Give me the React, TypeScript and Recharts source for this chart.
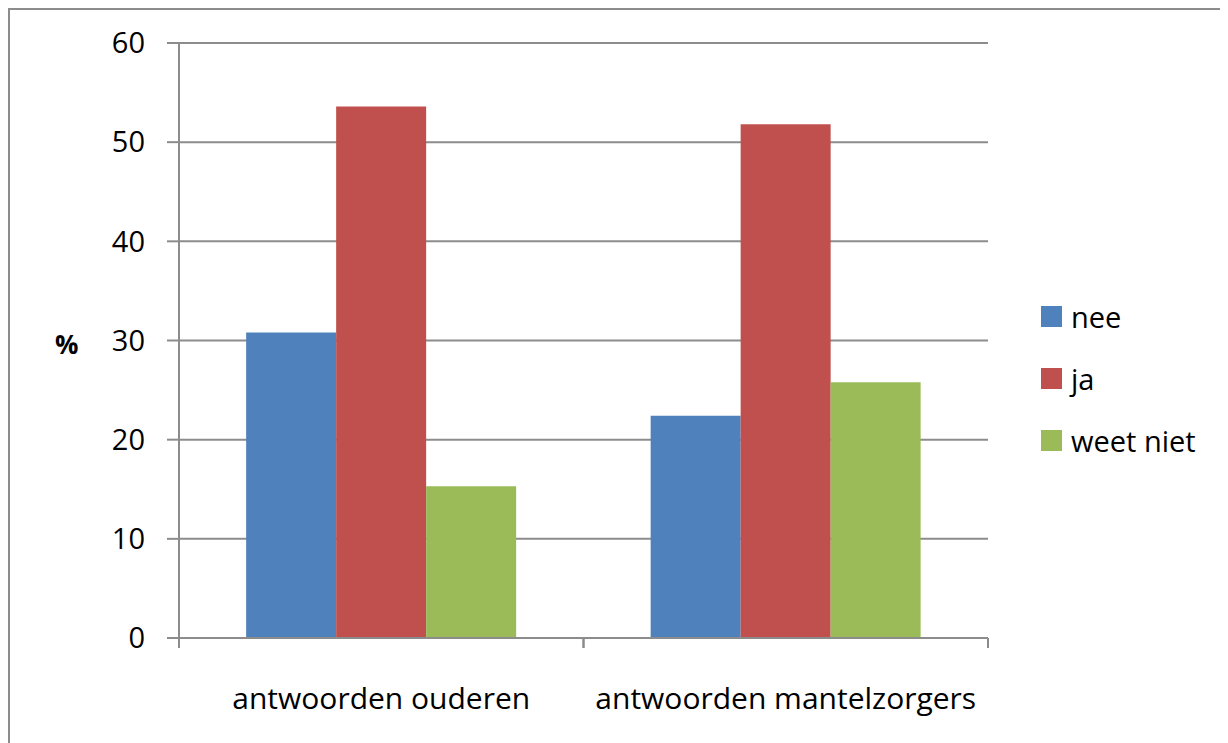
import React from 'react';
import { BarChart, Bar, XAxis, YAxis, CartesianGrid, Label } from 'recharts';

const categories = ['antwoorden ouderen', 'antwoorden mantelzorgers'];
const nee = [30.8, 22.4];
const ja = [53.6, 51.8];
const weetNiet = [15.3, 25.8];
const yTicks = [0, 10, 20, 30, 40, 50, 60];

const seriesInfo = [
  { key: 'nee', name: 'nee', color: '#4F81BD' },
  { key: 'ja', name: 'ja', color: '#C0504D' },
  { key: 'weetNiet', name: 'weet niet', color: '#9BBB59' },
];

const data = categories.map((c, i) => ({ cat: c, nee: nee[i], ja: ja[i], weetNiet: weetNiet[i] }));

const FONT = '"Open Sans", sans-serif';
const GRID = '#8c8c8c';
const X_TICK_MARGIN = 50;

const CategoryTick = (props: any) => {
  const { x, y, payload } = props;
  const half = payload && payload.offset ? payload.offset : 0;
  const axisY = y - X_TICK_MARGIN;
  return (
    <g>
      <line x1={x - half} x2={x - half} y1={axisY} y2={axisY + 10} stroke={GRID} strokeWidth={2} />
      <line x1={x + half} x2={x + half} y1={axisY} y2={axisY + 10} stroke={GRID} strokeWidth={2} />
      <text
        x={x}
        y={y}
        dy="0.71em"
        textAnchor="middle"
        fontFamily={FONT}
        fontSize={30}
        fill="#000"
      >
        {payload.value}
      </text>
    </g>
  );
};

export default function App() {
  return (
    <div
      style={{
        position: 'relative',
        width: 1220,
        height: 735,
        borderLeft: `2px solid ${GRID}`,
        borderTop: `2px solid ${GRID}`,
        boxSizing: 'border-box',
        background: '#fff',
      }}
    >
      <div style={{ position: 'absolute', left: -2, top: -2 }}>
        <BarChart
          width={1220}
          height={735}
          data={data}
          margin={{ top: 35, right: 240, bottom: 45, left: 0 }}
          barCategoryGap="16.6%"
          barGap={0}
        >
          <CartesianGrid vertical={false} stroke={GRID} strokeWidth={2} />
          <XAxis
            dataKey="cat"
            height={60}
            tickLine={false}
            tickSize={0}
            axisLine={{ stroke: GRID, strokeWidth: 2 }}
            tickMargin={X_TICK_MARGIN}
            tick={<CategoryTick />}
            interval={0}
          />
          <YAxis
            width={171}
            domain={[0, 60]}
            ticks={yTicks}
            interval={0}
            tickSize={12}
            tickMargin={22}
            tickLine={{ stroke: GRID, strokeWidth: 2 }}
            axisLine={{ stroke: GRID, strokeWidth: 2 }}
            tick={{ fontFamily: FONT, fontSize: 29, fill: '#000' }}
          >
            <Label
              value="%"
              position="insideLeft"
              offset={47}
              dy={4}
              style={{ fontFamily: FONT, fontSize: 26, fontWeight: 'bold', fill: '#000' }}
            />
          </YAxis>
          {seriesInfo.map((s) => (
            <Bar key={s.key} dataKey={s.key} name={s.name} fill={s.color} isAnimationActive={false} />
          ))}
        </BarChart>
      </div>
      <div
        style={{
          position: 'absolute',
          left: 1031,
          top: 275,
          fontFamily: FONT,
          fontSize: 29,
          color: '#000',
        }}
      >
        {seriesInfo.map((s) => (
          <div key={s.key} style={{ display: 'flex', alignItems: 'center', height: 62 }}>
            <div style={{ width: 21, height: 21, background: s.color, marginRight: 9 }} />
            <span>{s.name}</span>
          </div>
        ))}
      </div>
    </div>
  );
}
